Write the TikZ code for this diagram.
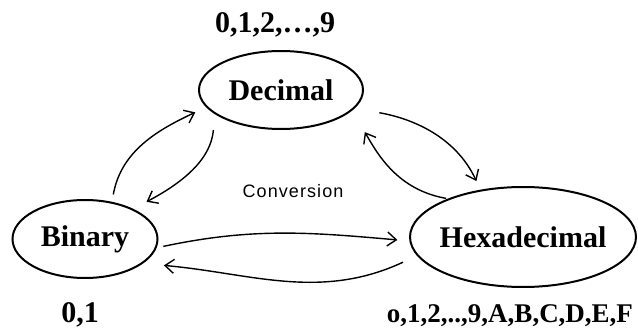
\documentclass[tikz,border=0pt]{standalone}
\usepackage{fontspec}
\setmainfont{Liberation Serif}
\newfontfamily\convfont[LetterSpace=6]{Liberation Sans}
\usetikzlibrary{shapes.geometric,arrows.meta}
\begin{document}
\begin{tikzpicture}[x=1pt,y=1pt,
  numsys/.style={ellipse, draw, line width=2pt, inner sep=0pt,
    font=\fontsize{30}{36}\selectfont\bfseries},
  digits/.style={font=\fontsize{30}{36}\selectfont\bfseries, anchor=base, inner sep=0pt},
  conv/.style={-{Straight Barb[length=9pt,width=14pt]}, line width=1.4pt}]
\useasboundingbox (0,0) rectangle (638,333);
\node[numsys, minimum width=164pt, minimum height=78pt] (dec) at (281,243) {\makebox[0pt]{Decimal}};
\node[numsys, minimum width=145pt, minimum height=78pt] (bin) at (85,94) {\makebox[0pt]{Binary}};
\node[numsys, minimum width=226pt, minimum height=100pt] (hex) at (523,96) {\makebox[0pt]{Hexadecimal}};
\node[digits] (declab) at (275,301) {0,1,2,…,9};
\node[digits] (binlab) at (80,11) {0,1};
\node[digits, font=\fontsize{27}{32}\selectfont\bfseries] (hexlab) at (510,11) {o,1,2,..,9,A,B,C,D,E,F};
\node[anchor=base, inner sep=0pt, font=\convfont\fontsize{18}{21}\selectfont] (convlab) at (293,136) {Conversion};
\draw[conv, shorten <=7.5pt, shorten >=12pt] (bin.54.9) to[out=80,in=205] (dec.193.9);
\draw[conv, shorten <=16pt, shorten >=15pt] (dec.200.75) to[out=265,in=28] (bin.32.7);
\draw[conv, shorten <=25pt, shorten >=9.5pt] (dec.-14.7) to[out=-10,in=115] (hex.132.2);
\draw[conv, shorten <=1.7pt, shorten >=25pt] (hex.153.1) to[out=170,in=-60] (dec.-16.4);
\draw[conv, shorten <=6.8pt, shorten >=12pt] (bin.-7.6) to[out=12,in=175] (hex.182);
\draw[conv, shorten <=15.4pt, shorten >=21pt] (hex.190.6) to[out=205,in=-5] (bin.-23);
\end{tikzpicture}
\end{document}
